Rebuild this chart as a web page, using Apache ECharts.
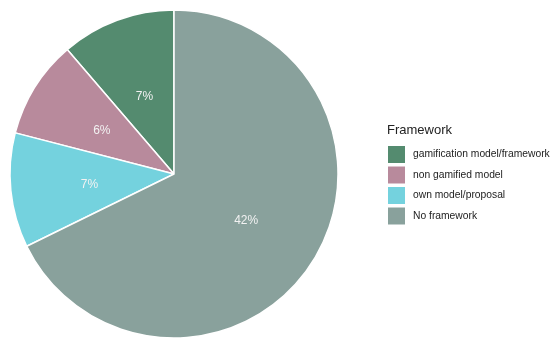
<!DOCTYPE html>
<html>
<head>
<meta charset="utf-8">
<script src="https://cdn.jsdelivr.net/npm/echarts@6/dist/echarts.min.js"></script>
<style>
  html, body { margin: 0; padding: 0; background: #fff; }
  #chart { width: 550px; height: 339px; }
</style>
</head>
<body>
<div id="chart"></div>
<script>
// Framework usage shares
const categories = ['gamification model/framework', 'non gamified model', 'own model/proposal', 'No framework'];
const values = [7, 6, 7, 42];
const colors = ['#548b6f', '#b88a9c', '#74d2de', '#89a19c'];

const chart = echarts.init(document.getElementById('chart'));
chart.setOption({
  animation: false,
  textStyle: { fontFamily: 'Liberation Sans, Arial, sans-serif' },
  title: {
    text: 'Framework',
    left: 382,
    top: 119,
    textStyle: { fontSize: 13, fontWeight: 'normal', color: '#222' }
  },
  legend: {
    orient: 'vertical',
    left: 383,
    top: 141,
    itemWidth: 17,
    itemHeight: 17,
    itemGap: 3.5,
    icon: 'rect',
    data: categories,
    itemStyle: { borderWidth: 0 },
    textStyle: { fontSize: 10.3, color: '#222', padding: [0, 0, 0, 3] }
  },
  series: [{
    type: 'pie',
    center: [174, 174],
    radius: [0, 164],
    startAngle: 90,
    clockwise: false,
    data: categories.map((c, i) => ({ name: c, value: values[i], itemStyle: { color: colors[i] } })),
    itemStyle: { borderColor: '#fff', borderWidth: 1.5 },
    label: {
      position: 'inside',
      formatter: p => p.value + '%',
      color: '#f2f2f2',
      fontSize: 12,
      offset: [0, 2]
    },
    labelLine: { show: false },
    emphasis: { disabled: true }
  }]
});
</script>
</body>
</html>
